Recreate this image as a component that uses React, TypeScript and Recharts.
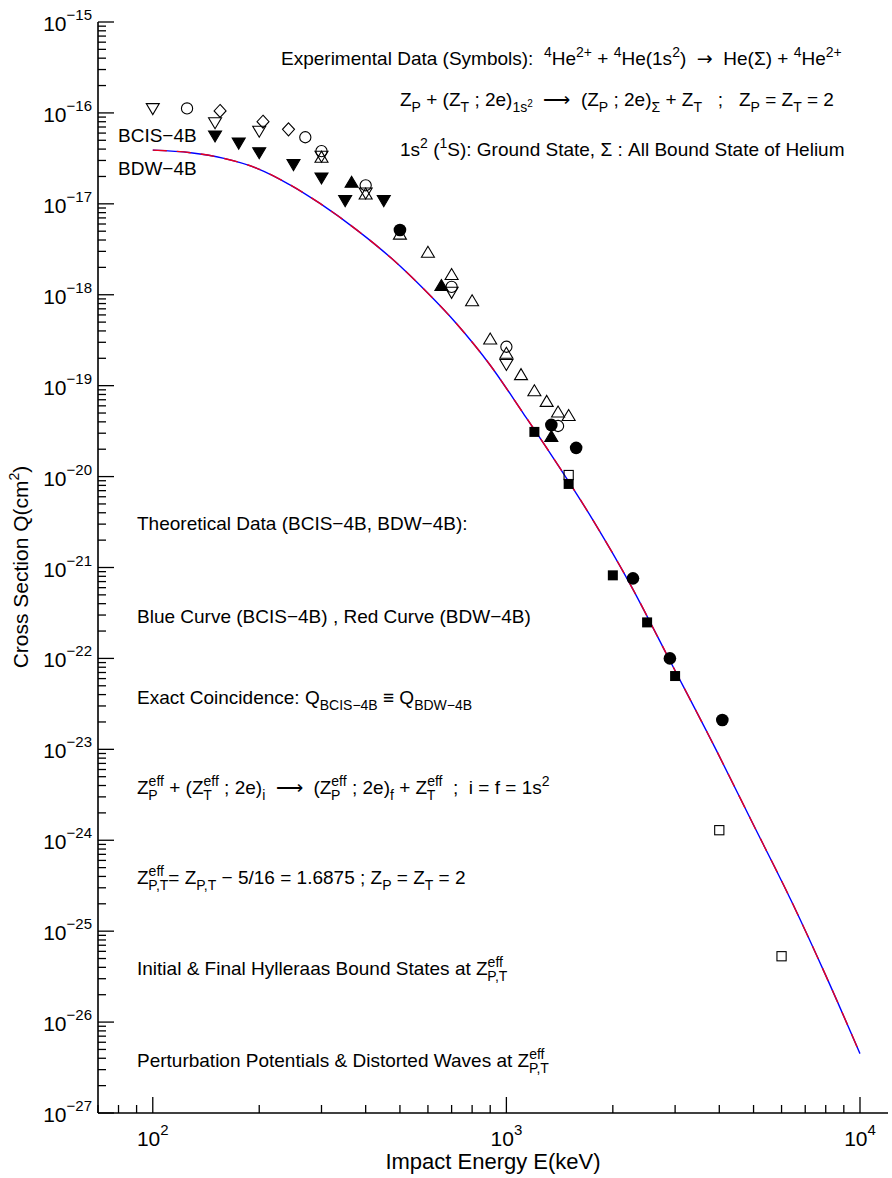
import React from "react";
import { ComposedChart, Line, Scatter, XAxis, YAxis } from "recharts";

// theory curve (BCIS-4B and BDW-4B coincide exactly)
const energies = [100, 128, 159, 197, 245, 297, 378, 474, 582, 723, 898, 1115, 1312, 1759, 2232, 2894, 3922, 4923, 6452, 8017, 10000];
const qBcis = [3.9e-17, 3.65e-17, 3.16e-17, 2.46e-17, 1.61e-17, 1.01e-17, 5.14e-18, 2.5e-18, 1.17e-18, 4.8e-19, 1.7e-19, 5.0e-20, 1.96e-20, 3.3e-21, 6.7e-22, 9.6e-23, 9.8e-24, 1.66e-24, 2.0e-25, 3.2e-26, 4.5e-27];
const qBdw = [3.9e-17, 3.65e-17, 3.16e-17, 2.46e-17, 1.61e-17, 1.01e-17, 5.14e-18, 2.5e-18, 1.17e-18, 4.8e-19, 1.7e-19, 5.0e-20, 1.96e-20, 3.3e-21, 6.7e-22, 9.6e-23, 9.8e-24, 1.66e-24, 2.0e-25, 3.2e-26, 4.5e-27];

// experimental symbols [E keV, Q cm2]
const openInvTri = [[100, 1.1e-16], [150, 7.7e-17], [200, 6.2e-17], [300, 3.3e-17], [400, 1.3e-17], [700, 1.05e-18], [1000, 1.69e-19]];
const openTri = [[300, 3.3e-17], [400, 1.3e-17], [500, 4.7e-18], [600, 2.97e-18], [700, 1.69e-18], [800, 8.7e-19], [900, 3.3e-19], [1000, 2.3e-19], [1100, 1.34e-19], [1200, 8.9e-20], [1300, 6.8e-20], [1400, 5.2e-20], [1500, 4.75e-20]];
const openCircle = [[125, 1.12e-16], [270, 5.4e-17], [300, 3.8e-17], [400, 1.6e-17], [700, 1.22e-18], [1000, 2.68e-19], [1400, 3.6e-20]];
const openDiamond = [[155, 1.05e-16], [205, 8e-17], [242, 6.6e-17]];
const filledInvTri = [[150, 5.5e-17], [175, 4.6e-17], [200, 3.6e-17], [250, 2.67e-17], [300, 1.9e-17], [350, 1.07e-17], [450, 1.07e-17]];
const filledTri = [[365, 1.75e-17], [655, 1.28e-18], [1340, 2.8e-20]];
const filledCircle = [[500, 5.15e-18], [1340, 3.7e-20], [1575, 2.07e-20], [2280, 7.6e-22], [2900, 1e-22], [4080, 2.1e-23]];
const filledSquare = [[1200, 3.1e-20], [1500, 8.3e-21], [2000, 8.2e-22], [2500, 2.49e-22], [3000, 6.4e-23]];
const openSquare = [[1500, 1.04e-20], [4000, 1.29e-24], [6000, 5.3e-26]];

const xTicks = [70, 80, 90, 100, 200, 300, 400, 500, 600, 700, 800, 900, 1000, 2000, 3000, 4000, 5000, 6000, 7000, 8000, 9000, 10000];
const yDecades = [-27, -26, -25, -24, -23, -22, -21, -20, -19, -18, -17, -16];
const yTicks = [...yDecades.flatMap((d) => [1, 2, 3, 4, 5, 6, 7, 8, 9].map((m) => m * Math.pow(10, d))), 1e-15];

const FONT = "'Liberation Sans', Arial, Helvetica, sans-serif";
const ARROW = "\u27F6";

const curve = (qs: number[]) => energies.map((e, i) => ({ x: e, y: qs[i] }));
const pts = (arr: number[][]) => arr.map(([x, y]) => ({ x, y }));

const isPow10 = (v: number) => Math.abs(Math.log10(v) - Math.round(Math.log10(v))) < 1e-6;
const expOf = (v: number) => {
  const e = Math.round(Math.log10(v));
  return e < 0 ? "\u2212" + Math.abs(e) : String(e);
};

function BottomTick({ x, y, payload }: any) {
  const v = payload.value;
  const major = isPow10(v);
  return (
    <g>
      <line x1={x} x2={x} y1={y} y2={y - (major ? 16 : 8)} stroke="#000" strokeWidth={1.3} />
      {major && (
        <text x={x} y={y + 33} textAnchor="middle" fontSize={21} fontFamily={FONT} fill="#000">
          10<tspan dy={-11} fontSize={15}>{expOf(v)}</tspan>
        </text>
      )}
    </g>
  );
}

function TopTick({ x, y, payload }: any) {
  const major = isPow10(payload.value);
  return <line x1={x} x2={x} y1={y} y2={y + (major ? 16 : 8)} stroke="#000" strokeWidth={1.3} />;
}

function LeftTick({ x, y, payload }: any) {
  const v = payload.value;
  const major = isPow10(v);
  return (
    <g>
      <line x1={x} x2={x + (major ? 16 : 8)} y1={y} y2={y} stroke="#000" strokeWidth={1.3} />
      {major && (
        <text x={x - 6} y={y + 9} textAnchor="end" fontSize={21} fontFamily={FONT} fill="#000">
          10<tspan dy={-11} fontSize={15}>{expOf(v)}</tspan>
        </text>
      )}
    </g>
  );
}

function RightTick({ x, y, payload }: any) {
  const major = isPow10(payload.value);
  return <line x1={x} x2={x - (major ? 16 : 8)} y1={y} y2={y} stroke="#000" strokeWidth={1.3} />;
}

function marker(kind: string) {
  return (p: any) => {
    const { cx, cy } = p;
    const sw = 1.1;
    switch (kind) {
      case "tri":
      case "triF":
        return <polygon points={`${cx},${cy - 5.5} ${cx - 6.5},${cy + 5.5} ${cx + 6.5},${cy + 5.5}`} fill={kind === "triF" ? "#000" : "none"} stroke="#000" strokeWidth={sw} />;
      case "inv":
      case "invF":
        return <polygon points={`${cx - 6.5},${cy - 5.5} ${cx + 6.5},${cy - 5.5} ${cx},${cy + 5.5}`} fill={kind === "invF" ? "#000" : "none"} stroke="#000" strokeWidth={sw} />;
      case "circ":
        return <circle cx={cx} cy={cy} r={5.6} fill="none" stroke="#000" strokeWidth={sw} />;
      case "circF":
        return <circle cx={cx} cy={cy} r={6.3} fill="#000" />;
      case "sq":
        return <rect x={cx - 4.6} y={cy - 4.6} width={9.2} height={9.2} fill="none" stroke="#000" strokeWidth={sw} />;
      case "sqF":
        return <rect x={cx - 5} y={cy - 5} width={10} height={10} fill="#000" />;
      default:
        return <polygon points={`${cx},${cy - 6.5} ${cx + 6},${cy} ${cx},${cy + 6.5} ${cx - 6},${cy}`} fill="none" stroke="#000" strokeWidth={sw} />;
    }
  };
}

// glyph widths (Arial units) for the stacked scripts
const W: Record<string, number> = { e: 556, f: 278, P: 667, T: 611, ",": 278 };
const tw = (s: string, size: number) => (s.split("").reduce((a, c) => a + (W[c] ?? 556), 0) * size) / 1000;

type Part = [string, string, string?];

function Rich({ x, y, parts, size = 19, small = 14 }: { x: number; y: number; parts: Part[]; size?: number; small?: number }) {
  const out: React.ReactNode[] = [];
  let cur = 0;
  let pend = 0;
  const shift: Record<string, number> = { n: 0, s: 0, u: -8, d: 6, d2: 1 };
  parts.forEach((p, i) => {
    const [mode, a, b] = p;
    if (mode === "ud") {
      out.push(<tspan key={i + "a"} dx={pend || undefined} dy={-8 - cur} fontSize={small}>{a}</tspan>);
      out.push(<tspan key={i + "b"} dx={-tw(a, small)} dy={14} fontSize={small}>{b}</tspan>);
      cur = 6;
      pend = Math.max(0, tw(a, small) - tw(b as string, small));
      return;
    }
    const s = shift[mode];
    out.push(
      <tspan key={i} dx={pend || undefined} dy={s - cur} fontSize={mode === "n" || mode === "s" ? size : mode === "d2" ? 10 : small} fontFamily={mode === "s" ? "'DejaVu Sans', sans-serif" : undefined}>
        {a}
      </tspan>
    );
    cur = s;
    pend = 0;
  });
  return (
    <text x={x} y={y} fontSize={size} fontFamily={FONT} fill="#000" style={{ whiteSpace: "pre" }}>
      {out}
    </text>
  );
}

export default function App() {
  const W0 = 892;
  const H0 = 1178;
  return (
    <div style={{ position: "absolute", left: 0, top: 0, width: W0, height: H0, background: "#fff" }}>
      <ComposedChart width={W0} height={H0} margin={{ top: 22, right: 4, bottom: 0, left: 0 }} style={{ fontFamily: FONT }}>
        <XAxis dataKey="x" type="number" scale="log" domain={[70, 12000]} allowDataOverflow ticks={xTicks} interval={0} height={65} tickSize={0} tickMargin={0} tick={<BottomTick />} axisLine={{ stroke: "#000", strokeWidth: 1.6 }} tickLine={false} />
        <XAxis xAxisId="top" orientation="top" type="number" scale="log" domain={[70, 12000]} allowDataOverflow ticks={xTicks} interval={0} height={0} tickSize={0} tickMargin={0} tick={<TopTick />} axisLine={{ stroke: "#000", strokeWidth: 1.6 }} tickLine={false} />
        <YAxis dataKey="y" type="number" scale="log" domain={[1e-27, 1e-15]} allowDataOverflow ticks={yTicks} interval={0} width={98} tickSize={0} tickMargin={0} tick={<LeftTick />} axisLine={{ stroke: "#000", strokeWidth: 1.6 }} tickLine={false} />
        <YAxis yAxisId="right" orientation="right" type="number" scale="log" domain={[1e-27, 1e-15]} allowDataOverflow ticks={yTicks} interval={0} width={0} tickSize={0} tickMargin={0} tick={<RightTick />} axisLine={{ stroke: "#000", strokeWidth: 1.6 }} tickLine={false} />
        <Line data={curve(qBcis)} dataKey="y" type="monotone" stroke="#0000ff" strokeWidth={1.4} dot={false} isAnimationActive={false} />
        <Line data={curve(qBdw)} dataKey="y" type="monotone" stroke="#e8001c" strokeWidth={1.4} strokeDasharray="14 10" dot={false} isAnimationActive={false} />
        <Scatter data={pts(openInvTri)} shape={marker("inv")} isAnimationActive={false} />
        <Scatter data={pts(openTri)} shape={marker("tri")} isAnimationActive={false} />
        <Scatter data={pts(openCircle)} shape={marker("circ")} isAnimationActive={false} />
        <Scatter data={pts(openDiamond)} shape={marker("dia")} isAnimationActive={false} />
        <Scatter data={pts(filledInvTri)} shape={marker("invF")} isAnimationActive={false} />
        <Scatter data={pts(filledTri)} shape={marker("triF")} isAnimationActive={false} />
        <Scatter data={pts(filledCircle)} shape={marker("circF")} isAnimationActive={false} />
        <Scatter data={pts(filledSquare)} shape={marker("sqF")} isAnimationActive={false} />
        <Scatter data={pts(openSquare)} shape={marker("sq")} isAnimationActive={false} />
      </ComposedChart>
      <svg width={W0} height={H0} style={{ position: "absolute", left: 0, top: 0, pointerEvents: "none" }}>
        <Rich x={281} y={65} parts={[["n", "Experimental Data (Symbols):  "], ["u", "4"], ["n", "He"], ["u", "2+"], ["n", " + "], ["u", "4"], ["n", "He(1s"], ["u", "2"], ["n", ")  "], ["s", "\u2192"], ["n", "  He(\u03a3) + "], ["u", "4"], ["n", "He"], ["u", "2+"]]} />
        <Rich x={400} y={106} parts={[["n", "Z"], ["d", "P"], ["n", " + (Z"], ["d", "T"], ["n", " ; 2e)"], ["d", "1s"], ["d2", "2"], ["n", "  " + ARROW + "  (Z"], ["d", "P"], ["n", " ; 2e)"], ["d", "\u03a3"], ["n", " + Z"], ["d", "T"], ["n", "   ;   Z"], ["d", "P"], ["n", " = Z"], ["d", "T"], ["n", " = 2"]]} />
        <Rich x={400} y={156} parts={[["n", "1s"], ["u", "2"], ["n", " ("], ["u", "1"], ["n", "S): Ground State, \u03a3 : All Bound State of Helium"]]} />
        <Rich x={118} y={142} parts={[["n", "BCIS\u22124B"]]} />
        <Rich x={118} y={175} parts={[["n", "BDW\u22124B"]]} />
        <Rich x={137} y={530} parts={[["n", "Theoretical Data (BCIS\u22124B, BDW\u22124B):"]]} />
        <Rich x={137} y={623} parts={[["n", "Blue Curve (BCIS\u22124B) , Red Curve (BDW\u22124B)"]]} />
        <Rich x={137} y={704} parts={[["n", "Exact Coincidence: Q"], ["d", "BCIS\u22124B"], ["n", " \u2261 Q"], ["d", "BDW\u22124B"]]} />
        <Rich x={137} y={794} parts={[["n", "Z"], ["ud", "eff", "P"], ["n", " + (Z"], ["ud", "eff", "T"], ["n", " ; 2e)"], ["d", "i"], ["n", "  " + ARROW + "  (Z"], ["ud", "eff", "P"], ["n", " ; 2e)"], ["d", "f"], ["n", " + Z"], ["ud", "eff", "T"], ["n", "  ;  i = f = 1s"], ["u", "2"]]} />
        <Rich x={137} y={884} parts={[["n", "Z"], ["ud", "eff", "P,T"], ["n", "= Z"], ["d", "P,T"], ["n", " \u2212 5/16 = 1.6875 ; Z"], ["d", "P"], ["n", " = Z"], ["d", "T"], ["n", " = 2"]]} />
        <Rich x={137} y={975} parts={[["n", "Initial & Final Hylleraas Bound States at Z"], ["ud", "eff", "P,T"]]} />
        <Rich x={137} y={1067} parts={[["n", "Perturbation Potentials & Distorted Waves at Z"], ["ud", "eff", "P,T"]]} />
        <text x={493} y={1169} textAnchor="middle" fontSize={22} fontFamily={FONT} fill="#000">
          Impact Energy E(keV)
        </text>
        <text transform="translate(28,567) rotate(-90)" textAnchor="middle" fontSize={21} fontFamily={FONT} fill="#000">
          Cross Section Q(cm<tspan dy={-9} fontSize={14}>2</tspan>
          <tspan dy={9}>)</tspan>
        </text>
      </svg>
    </div>
  );
}
